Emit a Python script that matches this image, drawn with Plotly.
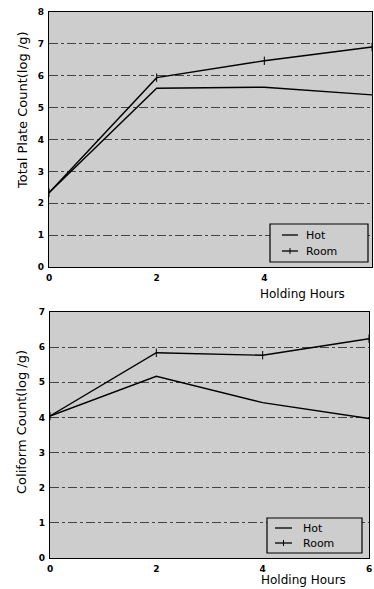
import plotly.graph_objects as go

hours = [0, 2, 4, 6]
tpc_hot = [2.33, 5.61, 5.64, 5.40]
tpc_room = [2.33, 5.94, 6.47, 6.90]
col_hot = [4.04, 5.17, 4.42, 3.97]
col_room = [4.04, 5.84, 5.77, 6.24]
series_names = ["Hot", "Room"]
x_ticks = [0, 2, 4, 6]

W, H = 374, 589
FONT = "DejaVu Sans, Liberation Sans, Arial, sans-serif"
BG = "#cdcdcd"

fig = go.Figure()

def add_pair(xa, ya, hot, room):
    fig.add_trace(go.Scatter(x=hours, y=hot, mode="lines", name=series_names[0],
                             line=dict(color="black", width=1.4), xaxis=xa, yaxis=ya,
                             showlegend=False))
    fig.add_trace(go.Scatter(x=hours, y=room, mode="lines+markers", name=series_names[1],
                             line=dict(color="black", width=1.4),
                             marker=dict(symbol="line-ns", size=6, line=dict(color="black", width=1)),
                             xaxis=xa, yaxis=ya, showlegend=False))

add_pair("x", "y", tpc_hot, tpc_room)
add_pair("x2", "y2", col_hot, col_room)

def px_x(p):
    return p / W

def px_y(p):
    return 1 - p / H

axis_common = dict(showline=True, linecolor="black", linewidth=1.3, mirror=True,
                   ticks="", zeroline=False, automargin=False, ticklabelstandoff=2,
                   tickfont=dict(family=FONT, size=9, color="black", weight="bold"))

shapes = []
annotations = []

def legend_box(x0, x1, y0, y1, lx0, lx1, tx, rows):
    shapes.append(dict(type="rect", xref="paper", yref="paper",
                       x0=px_x(x0), x1=px_x(x1), y0=px_y(y1), y1=px_y(y0),
                       line=dict(color="black", width=1.2), fillcolor=BG, layer="above"))
    for i, (name, ry) in enumerate(zip(series_names, rows)):
        shapes.append(dict(type="line", xref="paper", yref="paper",
                           x0=px_x(lx0), x1=px_x(lx1), y0=px_y(ry), y1=px_y(ry),
                           line=dict(color="black", width=1.3), layer="above"))
        if i == 1:
            mx = (lx0 + lx1) / 2
            shapes.append(dict(type="line", xref="paper", yref="paper",
                               x0=px_x(mx), x1=px_x(mx), y0=px_y(ry - 3), y1=px_y(ry + 3),
                               line=dict(color="black", width=1), layer="above"))
        annotations.append(dict(text=name, x=px_x(tx), y=px_y(ry), xref="paper", yref="paper",
                                xanchor="left", yanchor="middle", showarrow=False,
                                font=dict(family=FONT, size=11, color="black")))

legend_box(270, 368, 224, 262, 282, 298, 304, [235, 251])
legend_box(267, 362, 518, 553, 275, 292, 301, [528, 543])

annotations += [
    dict(text="Holding Hours", x=px_x(302), y=px_y(294), xref="paper", yref="paper",
         xanchor="center", yanchor="middle",
         showarrow=False, font=dict(family=FONT, size=12)),
    dict(text="Holding Hours", x=px_x(303), y=px_y(580), xref="paper", yref="paper",
         xanchor="center", yanchor="middle",
         showarrow=False, font=dict(family=FONT, size=12)),
    dict(text="Total Plate Count(log /g)", x=px_x(22), y=px_y(111), xref="paper", yref="paper",
         xanchor="center", yanchor="middle",
         showarrow=False, textangle=-90, font=dict(family=FONT, size=13)),
    dict(text="Coliform Count(log /g)", x=px_x(21), y=px_y(422), xref="paper", yref="paper",
         xanchor="center", yanchor="middle",
         showarrow=False, textangle=-90, font=dict(family=FONT, size=13)),
]

fig.update_layout(
    width=W, height=H,
    margin=dict(l=0, r=0, t=0, b=0),
    paper_bgcolor="white",
    plot_bgcolor=BG,
    font=dict(family=FONT, color="black"),
    showlegend=False,
    xaxis=dict(domain=[px_x(49), px_x(372)], range=[0, 6], tickvals=x_ticks,
               anchor="y", showgrid=False, **axis_common),
    yaxis=dict(domain=[px_y(267), px_y(12)], range=[0, 8], dtick=1,
               anchor="x", showgrid=True, gridcolor="#444", griddash="dashdot", gridwidth=1,
               **axis_common),
    xaxis2=dict(domain=[px_x(50), px_x(369)], range=[0, 6], tickvals=x_ticks,
                anchor="y2", showgrid=False, **axis_common),
    yaxis2=dict(domain=[px_y(558), px_y(312)], range=[0, 7], dtick=1,
                anchor="x2", showgrid=True, gridcolor="#444", griddash="dashdot", gridwidth=1,
                **axis_common),
    shapes=shapes,
    annotations=annotations,
)

fig.write_html("out.html", config={"displayModeBar": False},
               post_script="document.body.style.margin='0';")
